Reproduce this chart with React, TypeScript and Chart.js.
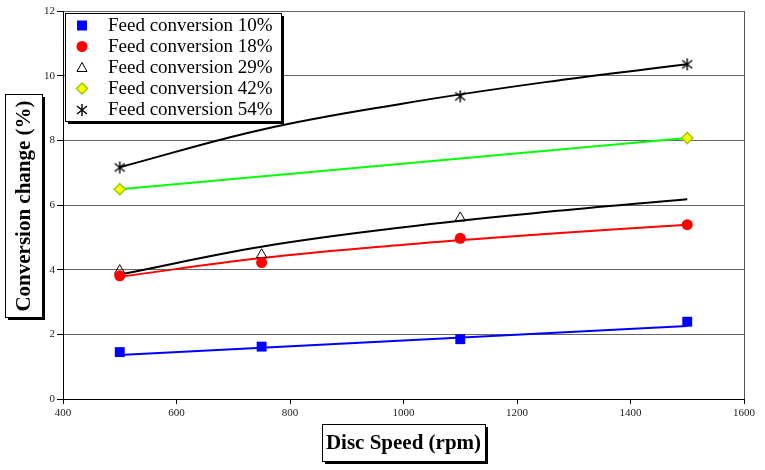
import React, { useEffect, useRef } from "react";
import Chart from "chart.js/auto";

// measured points
const speeds10 = [500, 750, 1100, 1500];
const conv10 = [1.45, 1.62, 1.85, 2.39];
const speeds18 = [500, 750, 1100, 1500];
const conv18 = [3.81, 4.22, 4.97, 5.39];
const speeds29 = [500, 750, 1100];
const conv29 = [3.97, 4.46, 5.6];
const speeds42 = [500, 1500];
const conv42 = [6.49, 8.07];
const speeds54 = [500, 1100, 1500];
const conv54 = [7.16, 9.36, 10.35];

// trend lines
const lineX = [500, 1500];
const trend10 = [1.36, 2.26];
const trend42 = [6.49, 8.07];
const curveX = [500, 750, 1000, 1250, 1500];
const trend18 = [3.78, 4.36, 4.77, 5.1, 5.39];
const trend29 = [3.85, 4.71, 5.31, 5.78, 6.18];
const trend54 = [7.17, 8.33, 9.14, 9.8, 10.35];

const seriesLabels = [
  "Feed conversion 10%",
  "Feed conversion 18%",
  "Feed conversion 29%",
  "Feed conversion 42%",
  "Feed conversion 54%",
];

const xTicks = [400, 600, 800, 1000, 1200, 1400, 1600];
const yTicks = [0, 2, 4, 6, 8, 10, 12];

const FONT = "'Liberation Serif', 'Times New Roman', serif";

const toXY = (xs: number[], ys: number[]) => xs.map((x, i) => ({ x, y: ys[i] }));

function makeAsterisk(): HTMLCanvasElement {
  const c = document.createElement("canvas");
  c.width = 14;
  c.height = 14;
  const g = c.getContext("2d")!;
  g.strokeStyle = "#000";
  g.lineWidth = 1.4;
  g.beginPath();
  g.moveTo(7, 1);
  g.lineTo(7, 13);
  g.moveTo(2, 3);
  g.lineTo(12, 11);
  g.moveTo(12, 3);
  g.lineTo(2, 11);
  g.stroke();
  return c;
}

function shadowBox(ctx: CanvasRenderingContext2D, x: number, y: number, w: number, h: number) {
  ctx.fillStyle = "#000";
  ctx.fillRect(x + 3, y + 3, w, h);
  ctx.fillStyle = "#fff";
  ctx.fillRect(x, y, w, h);
  ctx.strokeStyle = "#000";
  ctx.lineWidth = 1;
  ctx.strokeRect(x + 0.5, y + 0.5, w, h);
}

function legendMarker(ctx: CanvasRenderingContext2D, i: number, x: number, y: number, star: HTMLCanvasElement) {
  ctx.save();
  if (i === 0) {
    ctx.fillStyle = "#0000ff";
    ctx.fillRect(x - 5, y - 5, 10, 10);
  } else if (i === 1) {
    ctx.fillStyle = "#ff0000";
    ctx.beginPath();
    ctx.arc(x, y, 5.5, 0, Math.PI * 2);
    ctx.fill();
  } else if (i === 2) {
    ctx.strokeStyle = "#000";
    ctx.lineWidth = 1;
    ctx.beginPath();
    ctx.moveTo(x, y - 5);
    ctx.lineTo(x + 5, y + 4);
    ctx.lineTo(x - 5, y + 4);
    ctx.closePath();
    ctx.stroke();
  } else if (i === 3) {
    ctx.fillStyle = "#ffff00";
    ctx.strokeStyle = "#99cc00";
    ctx.lineWidth = 1.5;
    ctx.beginPath();
    ctx.moveTo(x, y - 5.5);
    ctx.lineTo(x + 5.5, y);
    ctx.lineTo(x, y + 5.5);
    ctx.lineTo(x - 5.5, y);
    ctx.closePath();
    ctx.fill();
    ctx.stroke();
  } else {
    ctx.drawImage(star, Math.round(x - 7), Math.round(y - 7));
  }
  ctx.restore();
}

const App: React.FC = () => {
  const chartRef = useRef<HTMLCanvasElement>(null);

  useEffect(() => {
    document.body.style.margin = "0";
    const ctx = chartRef.current?.getContext("2d");
    if (!ctx) return;

    const star = makeAsterisk();

    const decor = {
      id: "decor",
      afterDraw(chart: any) {
        const c: CanvasRenderingContext2D = chart.ctx;
        const a = chart.chartArea;
        c.save();
        // right border of plot
        c.strokeStyle = "#555";
        c.lineWidth = 1;
        c.beginPath();
        c.moveTo(Math.round(a.right) + 0.5, a.top);
        c.lineTo(Math.round(a.right) + 0.5, a.bottom);
        c.stroke();

        // legend
        const lx = a.left + 2;
        const ly = a.top + 2;
        shadowBox(c, lx, ly, 216, 108);
        c.font = `19px ${FONT}`;
        c.fillStyle = "#000";
        c.textBaseline = "middle";
        c.textAlign = "left";
        seriesLabels.forEach((lab, i) => {
          const yy = ly + 12.5 + i * 21;
          legendMarker(c, i, lx + 17, yy, star);
          c.fillText(lab, lx + 43, yy + 1);
        });

        // y title
        shadowBox(c, 5, 94, 37, 223);
        c.save();
        c.translate(24, 206);
        c.rotate(-Math.PI / 2);
        c.font = `bold 21px ${FONT}`;
        c.textAlign = "center";
        c.textBaseline = "middle";
        c.fillStyle = "#000";
        c.fillText("Conversion change (%)", 0, 1);
        c.restore();

        // x title
        shadowBox(c, 322, 424, 163, 37);
        c.font = `bold 21px ${FONT}`;
        c.textAlign = "center";
        c.textBaseline = "middle";
        c.fillStyle = "#000";
        c.fillText("Disc Speed (rpm)", 403.5, 444);
        c.restore();
      },
    };

    const trend = (label: string, xs: number[], ys: number[], color: string, curved: boolean) => ({
      label,
      data: toXY(xs, ys),
      showLine: true,
      pointRadius: 0,
      borderColor: color,
      borderWidth: 2,
      tension: curved ? 0.4 : 0,
    });

    const chart = new Chart(ctx, {
      type: "scatter",
      data: {
        datasets: [
          {
            label: seriesLabels[0],
            data: toXY(speeds10, conv10),
            pointStyle: "rect",
            pointRadius: 7,
            backgroundColor: "#0000ff",
            borderColor: "#0000ff",
            borderWidth: 0,
            showLine: false,
          },
          {
            label: seriesLabels[1],
            data: toXY(speeds18, conv18),
            pointStyle: "circle",
            pointRadius: 5.5,
            backgroundColor: "#ff0000",
            borderColor: "#ff0000",
            borderWidth: 0,
            showLine: false,
          },
          {
            label: seriesLabels[2],
            data: toXY(speeds29, conv29),
            pointStyle: "triangle",
            pointRadius: 6,
            backgroundColor: "rgba(255,255,255,0)",
            borderColor: "#000",
            borderWidth: 1,
            showLine: false,
          },
          {
            label: seriesLabels[3],
            data: toXY(speeds42, conv42),
            pointStyle: "rectRot",
            pointRadius: 5.5,
            backgroundColor: "#ffff00",
            borderColor: "#99cc00",
            borderWidth: 1.5,
            showLine: false,
          },
          {
            label: seriesLabels[4],
            data: toXY(speeds54, conv54),
            pointStyle: star as any,
            pointRadius: 7,
            backgroundColor: "#000",
            borderColor: "#000",
            showLine: false,
          },
          trend("trend 10", lineX, trend10, "#0000ff", false),
          trend("trend 18", curveX, trend18, "#ff0000", true),
          trend("trend 29", curveX, trend29, "#000000", true),
          trend("trend 42", lineX, trend42, "#00ff00", false),
          trend("trend 54", curveX, trend54, "#000000", true),
        ],
      },
      options: {
        responsive: true,
        maintainAspectRatio: false,
        animation: false,
        layout: { padding: { top: 11, right: 21, left: 0, bottom: 0 } },
        plugins: {
          legend: { display: false },
          tooltip: { enabled: false },
        },
        scales: {
          x: {
            type: "linear",
            min: 400,
            max: 1600,
            afterFit: (s: any) => {
              s.height = 71;
            },
            afterBuildTicks: (s: any) => {
              s.ticks = xTicks.map((v) => ({ value: v }));
            },
            ticks: {
              font: { family: FONT, size: 11 },
              color: "#222",
              padding: 3,
              maxRotation: 0,
              callback: (v: any) => String(v),
            },
            grid: {
              drawOnChartArea: false,
              drawTicks: true,
              tickLength: 5,
              tickColor: "#000",
            },
            border: { color: "#000", width: 1 },
          },
          y: {
            min: 0,
            max: 12,
            afterFit: (s: any) => {
              s.width = 63;
            },
            afterBuildTicks: (s: any) => {
              s.ticks = yTicks.map((v) => ({ value: v }));
            },
            ticks: {
              font: { family: FONT, size: 11 },
              color: "#222",
              padding: 2,
              callback: (v: any) => String(v),
            },
            grid: {
              color: "#666",
              lineWidth: 1,
              drawTicks: true,
              tickLength: 6,
              tickColor: "#000",
            },
            border: { color: "#000", width: 1 },
          },
        },
      },
      plugins: [decor],
    });

    return () => chart.destroy();
  }, []);

  return (
    <div style={{ width: "765px", height: "470px", position: "relative", background: "#fff" }}>
      <canvas ref={chartRef} />
    </div>
  );
};

export default App;
